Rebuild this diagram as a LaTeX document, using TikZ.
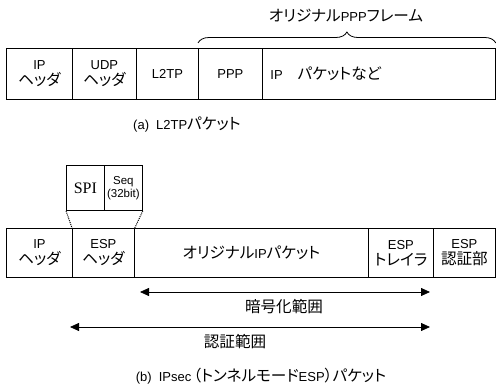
\documentclass[tikz,border=0pt]{standalone}
\usepackage{fontspec}
\setmainfont{Liberation Sans}
\newfontfamily\jpf{Noto Sans CJK JP}[RawFeature=+palt, Scale=1.2]
\newfontfamily\spif{Liberation Serif}
\newcommand\jp[1]{{\jpf #1}}
\usetikzlibrary{arrows.meta,decorations.pathreplacing}
\begin{document}
\begin{tikzpicture}[x=1pt,y=-1pt,
  every node/.style={font=\fontsize{13}{16}\selectfont},
  cell/.style={draw, line width=0.8pt, inner sep=0pt, align=center, anchor=north west},
  rowa/.style={cell, minimum height=51pt},
  rowb/.style={cell, minimum height=49pt},
  spicell/.style={cell, minimum height=45pt, minimum width=38pt},
  rangearrow/.style={line width=0.8pt, {Triangle[length=9pt,width=8pt]}-{Triangle[length=9pt,width=8pt]}}]
\path[use as bounding box] (0,0) rectangle (496,385);
% (a)
\node[rowa, minimum width=66pt] (aip) at (6,48) {IP\\\jp{ヘッダ}};
\node[rowa, minimum width=64pt] (audp) at (72,48) {UDP\\\jp{ヘッダ}};
\node[rowa, minimum width=62pt] (al2tp) at (136,48) {L2TP};
\node[rowa, minimum width=64pt] (appp) at (198,48) {PPP};
\node[rowa, minimum width=233pt, inner xsep=8pt, text width=217pt, align=left] (arest) at (262,48) {IP\hspace{15pt}\jp{パケットなど}};
\draw[line width=0.8pt, decorate, decoration={brace, amplitude=11pt}] ([yshift=5pt]appp.north west) -- ([yshift=5pt]arest.north east);
\node (pppf) at (346,16) {\jp{オリジナル}PPP\jp{フレーム}};
\node (capa) at (187,125) {(a)\hspace{7pt}L2TP\jp{パケット}};
% (b)
\node[spicell] (spi) at (66,165) {\spif\fontsize{16}{18}\selectfont SPI};
\node[spicell, font=\fontsize{11.5}{13}\selectfont] (seq) at (104,165) {Seq\\(32bit)};
\node[rowb, minimum width=66pt] (bip) at (6,228) {IP\\\jp{ヘッダ}};
\node[rowb, minimum width=62pt] (besp) at (72,228) {ESP\\\jp{ヘッダ}};
\node[rowb, minimum width=234pt] (borig) at (134,228) {\jp{オリジナル}IP\jp{パケット}};
\node[rowb, minimum width=65pt] (btr) at (368,228) {ESP\\\jp{トレイラ}};
\node[rowb, minimum width=62pt] (bauth) at (433,228) {ESP\\\jp{認証部}};
\draw[line width=1pt, densely dotted] (spi.south west) -- (besp.north west);
\draw[line width=1pt, densely dotted] (seq.south east) -- (besp.north east);
\coordinate (e1) at (140,292);
\coordinate (e2) at (430,292);
\coordinate (a1) at (70,327);
\coordinate (a2) at (430,327);
\draw[rangearrow] (e1) -- (e2);
\draw[rangearrow] (a1) -- (a2);
\node (enc) at (284,307) {\jp{暗号化範囲}};
\node (auth) at (235,342) {\jp{認証範囲}};
\node (capb) at (261,376) {(b)\hspace{7pt}IPsec\hspace{2pt}\jp{（トンネルモード}ESP\jp{）パケット}};
\end{tikzpicture}
\end{document}
